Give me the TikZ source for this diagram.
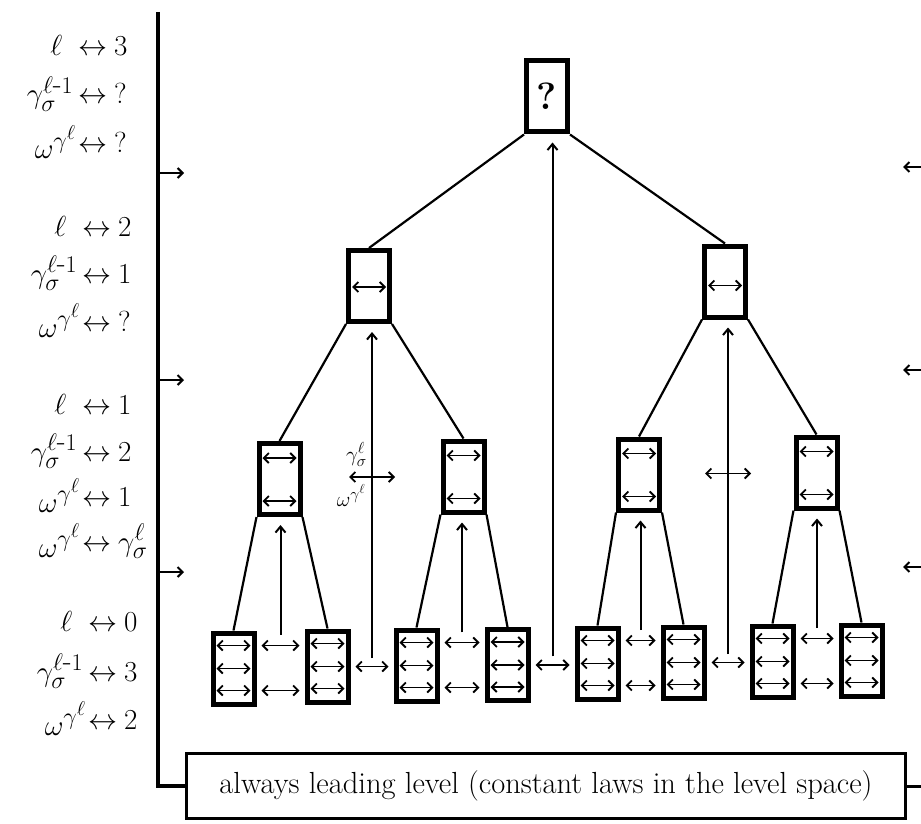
\RequirePackage{fix-cm}
\documentclass[tikz,border=0pt]{standalone}
\usetikzlibrary{arrows.meta,calc}
\DeclareMathSizes{29}{29}{24}{20}
\DeclareMathSizes{21}{21}{16}{13}
\newcommand\lrow[3][8pt]{\makebox[0pt][r]{#2\hspace{#1}}$\leftrightarrow$\hspace{7pt}#3}
\begin{document}
\begin{tikzpicture}[x=1pt,y=-1pt,
  box/.style={draw, line width=5pt, minimum width=41pt, minimum height=71pt, inner sep=0pt},
  link/.style={line width=2.2pt},
  inarr/.style={line width=1.8pt, {Straight Barb[length=5pt,width=10pt,line width=1.8pt]}-{Straight Barb[length=5pt,width=10pt,line width=1.8pt]}},
  uparr/.style={line width=2pt, -{Straight Barb[length=6pt,width=10pt,line width=2pt]}, shorten >=8pt},
  sidearr/.style={line width=2pt, -{Straight Barb[length=5pt,width=10pt,line width=2pt]}},
  lbl/.style={anchor=base west, inner sep=0pt, font=\fontsize{29}{34}\selectfont},
  midlbl/.style={inner sep=0pt, font=\fontsize{21}{25}\selectfont},
]
\useasboundingbox (0,0) rectangle (921,824);

% tree boxes
\node[box] (top) at (547,96.5) {\fontsize{38}{44}\selectfont\bfseries ?};
\node[box] (l2a) at (369,286) {};
\node[box] (l2b) at (725,281.5) {};
\node[box] (m1) at (279.5,479) {};
\node[box] (m2) at (463.5,476.5) {};
\node[box] (m3) at (639,474.5) {};
\node[box] (m4) at (816.5,472.5) {};
\node[box] (leaf1) at (233.5,668.5) {};
\node[box] (leaf2) at (327.5,666.5) {};
\node[box] (leaf3) at (416.5,665.5) {};
\node[box] (leaf4) at (507.5,665) {};
\node[box] (leaf5) at (597.5,663.5) {};
\node[box] (leaf6) at (683.5,662.5) {};
\node[box] (leaf7) at (772.5,661.5) {};
\node[box] (leaf8) at (861.5,660.5) {};

% tree links
\draw[link] (top.south west) -- (l2a.north);
\draw[link] (top.south east) -- (l2b.north);
\draw[link] (l2a.south west) -- (m1.north);
\draw[link] (l2a.south east) -- (m2.north);
\draw[link] (l2b.south west) -- (m3.north);
\draw[link] (l2b.south east) -- (m4.north);
\draw[link] (m1.south west) -- (leaf1.north);
\draw[link] (m1.south east) -- (leaf2.north);
\draw[link] (m2.south west) -- (leaf3.north);
\draw[link] (m2.south east) -- (leaf4.north);
\draw[link] (m3.south west) -- (leaf5.north);
\draw[link] (m3.south east) -- (leaf6.north);
\draw[link] (m4.south west) -- (leaf7.north);
\draw[link] (m4.south east) -- (leaf8.north);

% arrows inside boxes
\foreach \n in {1,...,8}{
  \foreach \dy in {-23,0,22}{
    \draw[inarr] ($(leaf\n)+(-17,\dy)$) -- ($(leaf\n)+(17,\dy)$);
  }
}
\foreach \n in {1,...,4}{
  \foreach \dy in {-21,22}{
    \draw[inarr] ($(m\n)+(-17,\dy)$) -- ($(m\n)+(17,\dy)$);
  }
}
\draw[inarr] ($(l2a)+(-17,1)$) -- ($(l2a)+(17,1)$);
\draw[inarr] ($(l2b)+(-17,4)$) -- ($(l2b)+(17,4)$);

% arrows between leaves (top and bottom rows)
\foreach \a/\b in {1/2,3/4,5/6,7/8}{
  \foreach \dy in {-23,22}{
    \coordinate (q) at ($(leaf\a.east)+(0,\dy)$);
    \draw[inarr, shorten <=5pt, shorten >=5pt] (q) -- (q -| leaf\b.west);
  }
}
% arrows between leaves (middle row)
\foreach \a/\b in {2/3,4/5,6/7}{
  \coordinate (q) at (leaf\a.east);
  \draw[inarr, shorten <=5pt, shorten >=5pt] (q) -- (q -| leaf\b.west);
}

% start points of the rising arrows
\coordinate (s12) at ($(leaf1.east)!0.5!(leaf2.west)+(0,-33)$);
\coordinate (s23) at ($(leaf2.east)!0.5!(leaf3.west)+(0,-8)$);
\coordinate (s34) at ($(leaf3.east)!0.5!(leaf4.west)+(0,-33)$);
\coordinate (s45) at ($(leaf4.east)!0.5!(leaf5.west)+(0,-8)$);
\coordinate (s56) at ($(leaf5.east)!0.5!(leaf6.west)+(0,-33)$);
\coordinate (s67) at ($(leaf6.east)!0.5!(leaf7.west)+(0,-8)$);
\coordinate (s78) at ($(leaf7.east)!0.5!(leaf8.west)+(0,-33)$);

\draw[uparr] (s12) -- (s12 |- m1.south);
\draw[uparr] (s34) -- (s34 |- m2.south);
\draw[uparr] (s56) -- (s56 |- m3.south);
\draw[uparr] (s78) -- (s78 |- m4.south);
\draw[uparr] (s23) -- (s23 |- l2a.south);
\draw[uparr] (s67) -- (s67 |- l2b.south);
\draw[uparr] (s45) -- (s45 |- top.south);

% crossing arrows on the level-2 verticals
\coordinate (c1) at ($(s23 |- m1)+(0,-2)$);
\coordinate (c2) at ($(s67 |- m3)+(0,-1)$);
\draw[inarr] ($(c1)+(-23,0)$) -- ($(c1)+(23,0)$);
\draw[inarr] ($(c2)+(-23,0)$) -- ($(c2)+(23,0)$);
\node[midlbl, anchor=south east] (lg) at ($(c1)+(-5,-10)$) {$\gamma^{\ell}_{\sigma}$};
\node[midlbl, anchor=north east] (lw) at ($(c1)+(-6,7)$) {$\omega^{\gamma^{\ell}}$};

% level axis on the left
\node[draw, line width=3pt, minimum width=719pt, minimum height=65pt, inner sep=0pt,
      font=\fontsize{30.5}{36}\selectfont] (base) at (546,786)
      {always leading level (constant laws in the level space)};
\coordinate (mtop) at (158,12);
\draw[line width=4pt] (mtop) -- (mtop |- base.west) -- (base.west);
\coordinate (redge) at (921,786);
\draw[line width=3pt] (base.east) -- (redge);

\foreach \y [count=\i] in {173,380,572}{
  \coordinate (la\i) at (158,\y);
  \coordinate (lb\i) at (184,\y);
  \draw[sidearr] (la\i) -- (lb\i);
}
\foreach \y [count=\i] in {167,370,567}{
  \coordinate (ra\i) at (925,\y);
  \coordinate (rb\i) at (903,\y);
  \draw[sidearr] (ra\i) -- (rb\i);
}

% level labels
\node[lbl] (a1) at (78,56) {\lrow[16pt]{$\ell$}{3}};
\node[lbl] (a2) at (78,104) {\lrow[5pt]{$\gamma^{\ell\mbox{-}1}_{\sigma}$}{?}};
\node[lbl] (a3) at (78,153) {\lrow[2pt]{\raisebox{-6pt}{$\omega^{\gamma^{\ell}}$}}{?}};

\node[lbl] (b1) at (82,236) {\lrow[16pt]{$\ell$}{2}};
\node[lbl] (b2) at (82,283) {\lrow[5pt]{$\gamma^{\ell\mbox{-}1}_{\sigma}$}{1}};
\node[lbl] (b3) at (82,331) {\lrow[2pt]{\raisebox{-6pt}{$\omega^{\gamma^{\ell}}$}}{?}};

\node[lbl] (c1l) at (82,414) {\lrow[16pt]{$\ell$}{1}};
\node[lbl] (c2l) at (82,461) {\lrow[5pt]{$\gamma^{\ell\mbox{-}1}_{\sigma}$}{2}};
\node[lbl] (c3l) at (82,506) {\lrow[2pt]{\raisebox{-6pt}{$\omega^{\gamma^{\ell}}$}}{1}};
\node[lbl] (c4l) at (82,551) {\lrow[2pt]{\raisebox{-6pt}{$\omega^{\gamma^{\ell}}$}}{$\gamma^{\ell}_{\sigma}$}};

\node[lbl] (d1) at (88,631) {\lrow[16pt]{$\ell$}{0}};
\node[lbl] (d2) at (88,681) {\lrow[5pt]{$\gamma^{\ell\mbox{-}1}_{\sigma}$}{3}};
\node[lbl] (d3) at (88,729) {\lrow[2pt]{\raisebox{-6pt}{$\omega^{\gamma^{\ell}}$}}{2}};
\end{tikzpicture}
\end{document}
